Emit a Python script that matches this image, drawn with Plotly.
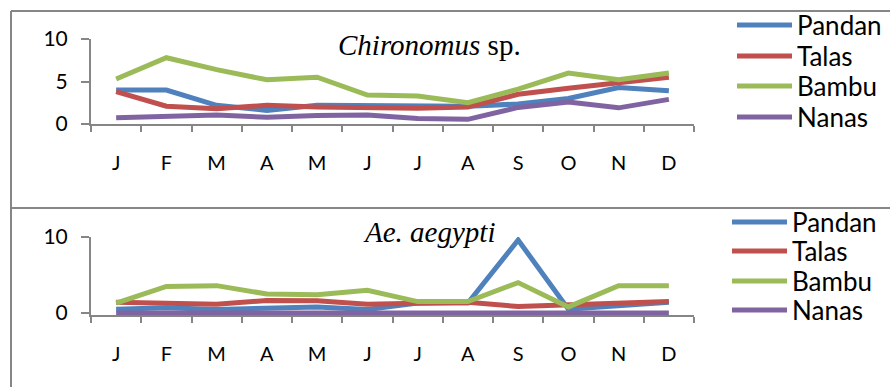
import plotly.graph_objects as go

# Monthly abundance of larvae in four plant-type breeding sites
MONTHS = ["J", "F", "M", "A", "M", "J", "J", "A", "S", "O", "N", "D"]
SERIES = ["Pandan", "Talas", "Bambu", "Nanas"]
COLORS = ["#4F81BD", "#C0504D", "#9BBB59", "#8064A2"]

chiro_pandan = [4.0, 4.0, 2.2, 1.6, 2.2, 2.2, 2.1, 2.1, 2.35, 3.0, 4.3, 3.9]
chiro_talas = [3.8, 2.1, 1.8, 2.2, 2.0, 1.9, 1.85, 2.0, 3.5, 4.2, 4.9, 5.5]
chiro_bambu = [5.3, 7.8, 6.4, 5.2, 5.5, 3.4, 3.3, 2.5, 4.1, 6.0, 5.2, 6.0]
chiro_nanas = [0.75, 0.95, 1.05, 0.8, 1.0, 1.05, 0.65, 0.55, 1.95, 2.6, 1.9, 2.9]

aedes_pandan = [0.5, 0.7, 0.45, 0.6, 0.8, 0.45, 1.3, 1.3, 9.6, 0.5, 1.0, 1.4]
aedes_talas = [1.4, 1.3, 1.15, 1.65, 1.6, 1.15, 1.2, 1.4, 0.85, 1.05, 1.2, 1.5]
aedes_bambu = [1.3, 3.5, 3.6, 2.5, 2.4, 3.0, 1.5, 1.5, 4.0, 0.8, 3.6, 3.6]
aedes_nanas = [0, 0, 0, 0, 0, 0, 0, 0, 0, 0, 0, 0]

PANELS = [
    ("<i>Chironomus</i> sp.", [chiro_pandan, chiro_talas, chiro_bambu, chiro_nanas]),
    ("<i>Ae. aegypti</i>", [aedes_pandan, aedes_talas, aedes_bambu, aedes_nanas]),
]

W, H = 890, 387
AXIS_GREY = "#868686"
FONT = "Lato"


def px(x):
    return x / W


def py(y):
    return 1 - y / H


x_idx = list(range(len(MONTHS)))

fig = go.Figure()
for p, (title, data) in enumerate(PANELS):
    xa = "x" if p == 0 else "x2"
    ya = "y" if p == 0 else "y2"
    for name, color, vals in zip(SERIES, COLORS, data):
        fig.add_trace(go.Scatter(
            x=x_idx, y=vals, name=name, mode="lines",
            line=dict(color=color, width=5),
            xaxis=xa, yaxis=ya, showlegend=False,
        ))

x_common = dict(
    range=[-0.5, len(MONTHS) - 0.5],
    tickmode="array", tickvals=x_idx, ticktext=MONTHS, ticks="",
    minor=dict(tickmode="array", tickvals=[i - 0.5 for i in range(len(MONTHS) + 1)],
               ticks="outside", ticklen=6, tickwidth=1.5, tickcolor=AXIS_GREY,
               showgrid=False),
    showline=True, linecolor=AXIS_GREY, linewidth=2,
    showgrid=False, zeroline=False, automargin=False,
    tickfont=dict(family=FONT, size=20, color="black"),
    ticklabelstandoff=20, layer="below traces",
)
y_common = dict(
    showline=True, linecolor=AXIS_GREY, linewidth=2,
    ticks="outside", ticklen=8, tickwidth=1.5, tickcolor=AXIS_GREY,
    showgrid=False, zeroline=False, automargin=False,
    tickfont=dict(family=FONT, size=21, color="black"),
    ticklabelstandoff=9, layer="below traces",
)

# bottom panel: 10 units span 76 px; a small negative margin keeps the zero line unclipped
bot_range = [-0.3, 10]
bot_bottom = 237 + 76 * (bot_range[1] - bot_range[0]) / 10

fig.update_layout(
    width=W, height=H, autosize=False,
    margin=dict(l=0, r=0, t=0, b=0, pad=0, autoexpand=False),
    paper_bgcolor="white", plot_bgcolor="white",
    xaxis=dict(domain=[px(91), px(694)], anchor="y", **x_common),
    yaxis=dict(domain=[py(124), py(39)], range=[0, 10], tickvals=[0, 5, 10],
               anchor="x", **y_common),
    xaxis2=dict(domain=[px(91), px(694)], anchor="y2", **x_common),
    yaxis2=dict(domain=[py(bot_bottom), py(237)], range=bot_range, tickvals=[0, 10],
                anchor="x2", **y_common),
)

shapes = []
annotations = []

# chart-area borders
border = dict(type="line", xref="paper", yref="paper",
              line=dict(color=AXIS_GREY, width=2))
shapes.append(dict(border, x0=px(11), x1=1, y0=py(11), y1=py(11)))
shapes.append(dict(border, x0=px(11), x1=px(11), y0=py(11), y1=0))
shapes.append(dict(border, x0=px(11), x1=1, y0=py(208), y1=py(208)))

# panel titles
for (title, _), ty in zip(PANELS, [45, 232]):
    annotations.append(dict(
        text=title, xref="paper", yref="paper", x=px(429), y=py(ty),
        xanchor="center", yanchor="middle", showarrow=False,
        font=dict(family="Liberation Serif", size=29, color="black"),
    ))

# legends, one per panel
legend_layout = [
    (737, 792, 795, [25, 56, 86, 117]),
    (732, 787, 790, [222, 251, 281, 310]),
]
for x0, x1, xt, rows in legend_layout:
    for name, color, ry in zip(SERIES, COLORS, rows):
        shapes.append(dict(type="line", xref="paper", yref="paper",
                           x0=px(x0), x1=px(x1), y0=py(ry), y1=py(ry),
                           line=dict(color=color, width=5)))
        annotations.append(dict(
            text=name, xref="paper", yref="paper", x=px(xt), y=py(ry),
            xanchor="left", yanchor="middle", showarrow=False,
            font=dict(family=FONT, size=26, color="black"),
        ))

fig.update_layout(shapes=shapes, annotations=annotations)

fig.write_html("out.html")
